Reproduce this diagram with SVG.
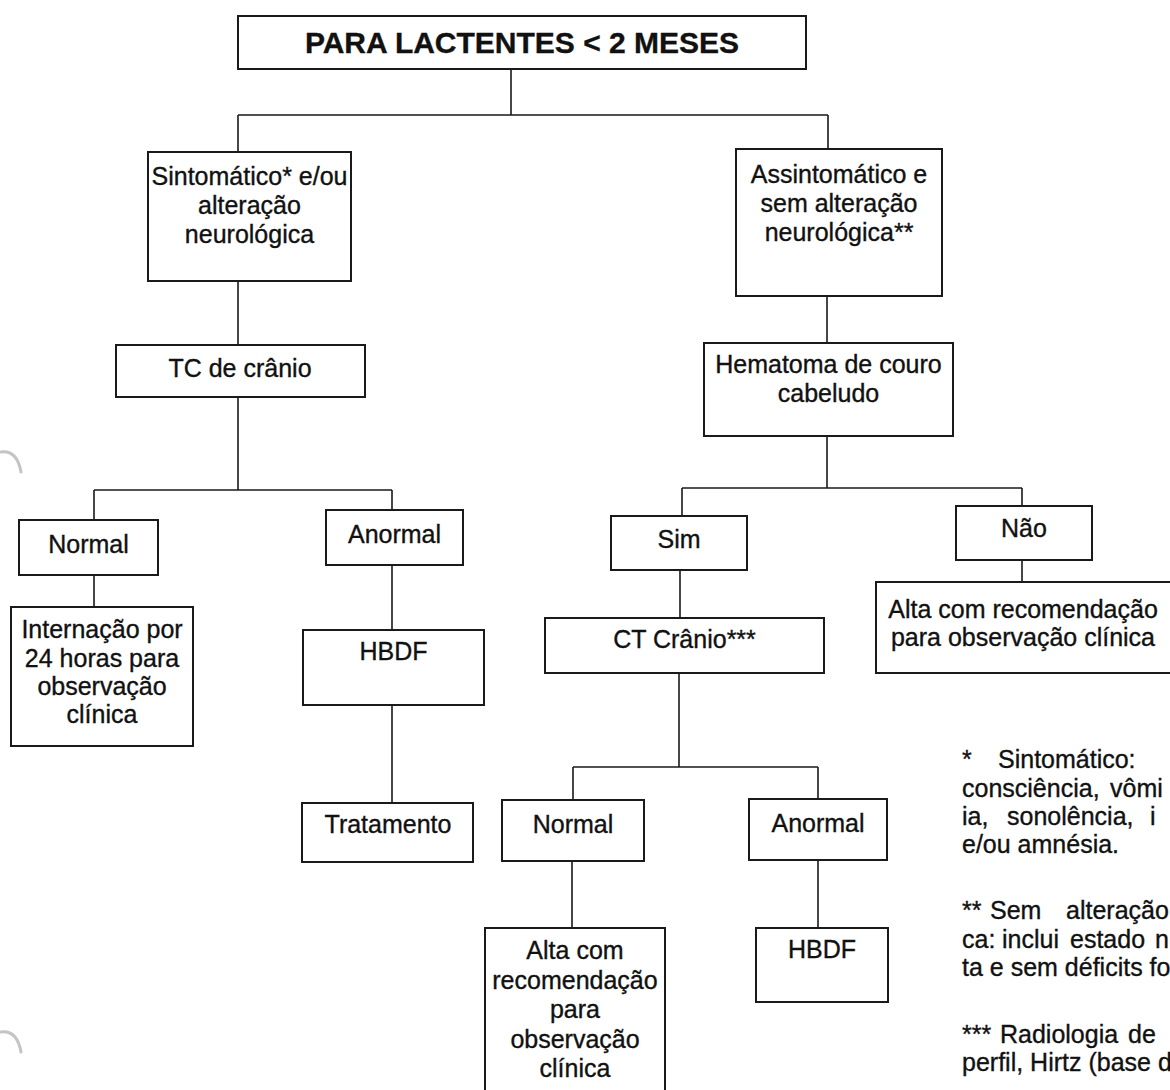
<svg xmlns="http://www.w3.org/2000/svg" width="1170" height="1090" viewBox="0 0 1170 1090">
  <style>
    .box { fill: #ffffff; stroke: #1a1a1a; stroke-width: 2; }
    .ln { fill: none; stroke: #1a1a1a; stroke-width: 1.6; }
    .t { font-family: "Liberation Sans", Arial, sans-serif; font-size: 25px; fill: #111111; stroke: #111111; stroke-width: 0.35; text-anchor: middle; }
    .title { font-size: 30px; font-weight: bold; }
    .fn { font-family: "Liberation Sans", Arial, sans-serif; font-size: 25px; fill: #111111; stroke: #111111; stroke-width: 0.35; text-anchor: start; }
    .punch { fill: none; stroke: #c4c4c4; stroke-width: 3; stroke-linecap: round; }
  </style>

  <rect width="1170" height="1090" fill="#ffffff"/>

  <!-- binder hole shadows along the left margin -->
  <g id="margin-marks">
    <path class="punch" d="M1 452 Q17 450 21 472"/>
    <path class="punch" d="M1 1032 Q17 1030 21 1052"/>
  </g>

  <!-- connectors -->
  <g id="connectors">
    <path class="ln" d="M511 69 V115 M238 115 H828 M238 115 V152 M828 115 V149"/>
    <path class="ln" d="M238 281 V345 M238 397 V490 M94 490 H392 M94 490 V520 M392 490 V510"/>
    <path class="ln" d="M94 575 V607 M392 565 V630 M392 705 V803"/>
    <path class="ln" d="M827 296 V343 M827 436 V488 M682 488 H1022 M682 488 V516 M1022 488 V506"/>
    <path class="ln" d="M680 570 V618 M1022 560 V582"/>
    <path class="ln" d="M679 673 V767 M573 767 H818 M573 767 V800 M818 767 V799"/>
    <path class="ln" d="M572 861 V928 M818 860 V928"/>
  </g>

  <g id="title">
    <rect class="box" x="238" y="16" width="568" height="53"/>
    <text class="t title" x="522" y="53">PARA LACTENTES &lt; 2 MESES</text>
  </g>

  <g id="sintomatico">
    <rect class="box" x="148" y="152" width="203" height="129"/>
    <text class="t" x="249.5" y="185">Sintomático* e/ou</text>
    <text class="t" x="249.5" y="214">alteração</text>
    <text class="t" x="249.5" y="243">neurológica</text>
  </g>

  <g id="tc-cranio">
    <rect class="box" x="116" y="345" width="249" height="52"/>
    <text class="t" x="240" y="377">TC de crânio</text>
  </g>

  <g id="assintomatico">
    <rect class="box" x="736" y="149" width="206" height="147"/>
    <text class="t" x="839" y="183">Assintomático e</text>
    <text class="t" x="839" y="212">sem alteração</text>
    <text class="t" x="839" y="241">neurológica**</text>
  </g>

  <g id="hematoma">
    <rect class="box" x="704" y="343" width="249" height="93"/>
    <text class="t" x="828.5" y="373">Hematoma de couro</text>
    <text class="t" x="828.5" y="402">cabeludo</text>
  </g>

  <g id="tc-normal">
    <rect class="box" x="19" y="520" width="139" height="55"/>
    <text class="t" x="88.5" y="553">Normal</text>
  </g>

  <g id="tc-anormal">
    <rect class="box" x="326" y="510" width="137" height="55"/>
    <text class="t" x="394.5" y="543">Anormal</text>
  </g>

  <g id="internacao">
    <rect class="box" x="11" y="607" width="182" height="139"/>
    <text class="t" x="102" y="638">Internação por</text>
    <text class="t" x="102" y="667">24 horas para</text>
    <text class="t" x="102" y="695">observação</text>
    <text class="t" x="102" y="723">clínica</text>
  </g>

  <g id="hbdf-left">
    <rect class="box" x="303" y="630" width="181" height="75"/>
    <text class="t" x="393.5" y="660">HBDF</text>
  </g>

  <g id="tratamento">
    <rect class="box" x="302" y="803" width="171" height="59"/>
    <text class="t" x="388" y="833">Tratamento</text>
  </g>

  <g id="sim">
    <rect class="box" x="611" y="516" width="136" height="54"/>
    <text class="t" x="679" y="548">Sim</text>
  </g>

  <g id="nao">
    <rect class="box" x="956" y="506" width="136" height="54"/>
    <text class="t" x="1024" y="537">Não</text>
  </g>

  <g id="ct-cranio">
    <rect class="box" x="545" y="618" width="279" height="55"/>
    <text class="t" x="684.5" y="648">CT Crânio***</text>
  </g>

  <g id="alta-nao">
    <rect class="box" x="876" y="582" width="298" height="91"/>
    <text class="t" x="1023" y="618">Alta com recomendação</text>
    <text class="t" x="1023" y="646">para observação clínica</text>
  </g>

  <g id="ct-normal">
    <rect class="box" x="502" y="800" width="142" height="61"/>
    <text class="t" x="573" y="833">Normal</text>
  </g>

  <g id="ct-anormal">
    <rect class="box" x="749" y="799" width="138" height="61"/>
    <text class="t" x="818" y="832">Anormal</text>
  </g>

  <g id="alta-normal">
    <rect class="box" x="485" y="928" width="180" height="170"/>
    <text class="t" x="575" y="959">Alta com</text>
    <text class="t" x="575" y="989">recomendação</text>
    <text class="t" x="575" y="1018">para</text>
    <text class="t" x="575" y="1048">observação</text>
    <text class="t" x="575" y="1077">clínica</text>
  </g>

  <g id="hbdf-right">
    <rect class="box" x="756" y="928" width="132" height="74"/>
    <text class="t" x="822" y="958">HBDF</text>
  </g>

  <!-- footnotes, justified column running past the right margin -->
  <g id="footnotes">
    <text class="fn" y="768"><tspan x="962">*</tspan><tspan x="998">Sintomático:</tspan></text>
    <text class="fn" y="797"><tspan x="962">consciência,</tspan><tspan x="1110">vômi</tspan></text>
    <text class="fn" y="825"><tspan x="962">ia,</tspan><tspan x="1007">sonolência,</tspan><tspan x="1150">i</tspan></text>
    <text class="fn" x="962" y="853">e/ou amnésia.</text>
    <text class="fn" y="919"><tspan x="962">**</tspan><tspan x="990">Sem</tspan><tspan x="1066">alteração</tspan></text>
    <text class="fn" y="948"><tspan x="962">ca:</tspan><tspan x="1002">inclui</tspan><tspan x="1070">estado</tspan><tspan x="1155">n</tspan></text>
    <text class="fn" x="962" y="976">ta e sem déficits fo</text>
    <text class="fn" y="1043"><tspan x="962">***</tspan><tspan x="1000">Radiologia</tspan><tspan x="1128">de</tspan></text>
    <text class="fn" x="962" y="1071">perfil, Hirtz (base d</text>
  </g>
</svg>
